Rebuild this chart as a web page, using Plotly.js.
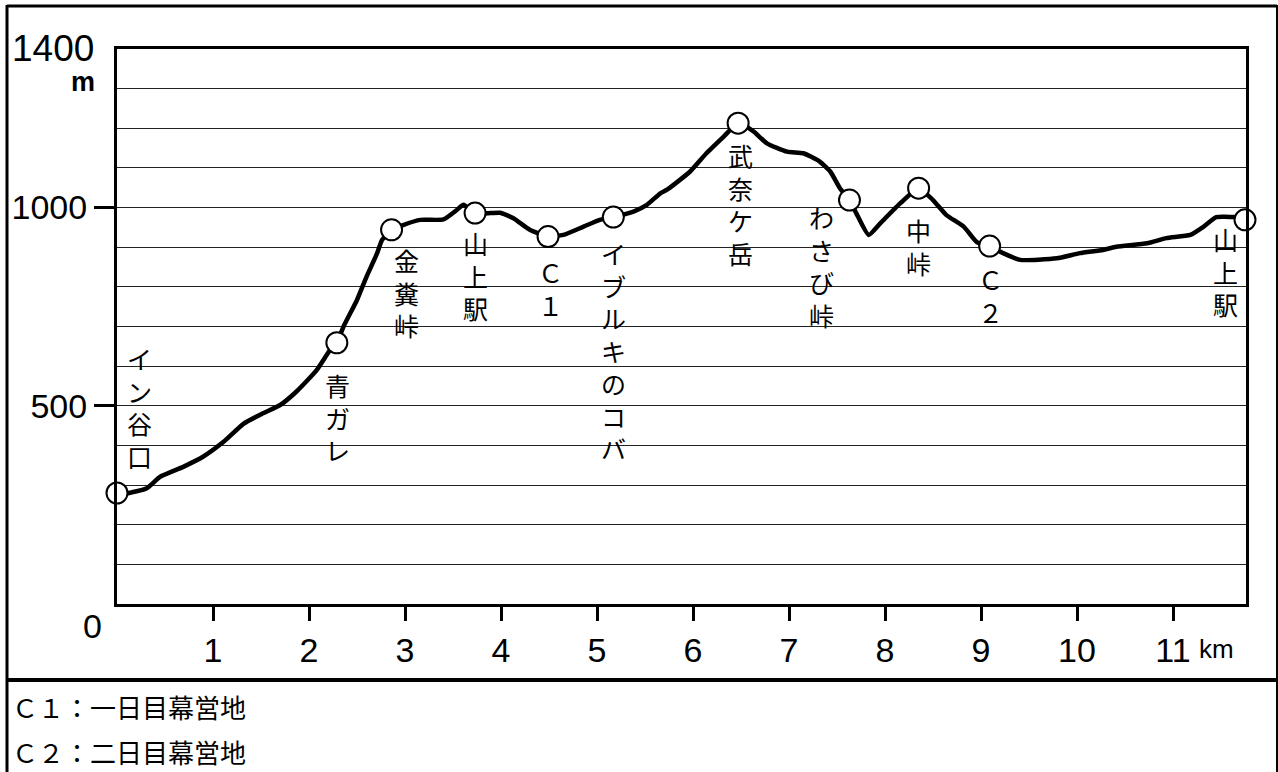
<!DOCTYPE html>
<html>
<head>
<meta charset="utf-8">
<script src="https://cdn.plot.ly/plotly-3.0.1.min.js"></script>
<style>html,body{margin:0;padding:0;background:#fff;}#chart{width:1278px;height:772px;}</style>
</head>
<body>
<div id="chart"></div>
<script>
// ---- data ----
const distKm = [0,0.10,0.31,0.45,0.69,0.90,1.11,1.32,1.52,1.70,1.87,2.08,2.22,2.29,2.36,2.50,2.60,2.71,2.76,2.86,2.98,3.16,3.40,3.54,3.61,3.73,3.89,3.99,4.13,4.30,4.49,4.65,4.86,5.03,5.17,5.38,5.52,5.66,5.73,5.97,6.14,6.32,6.47,6.63,6.77,6.98,7.15,7.32,7.43,7.53,7.63,7.70,7.83,7.95,8.16,8.35,8.50,8.64,8.82,8.96,9.09,9.23,9.41,9.79,10.03,10.27,10.41,10.73,10.93,11.18,11.32,11.45,11.63,11.75];
const elevM  = [280,279,292,321,346,372,409,455,481,502,536,590,641,659,700,767,826,885,918,944,956,969,970,994,1007,986,986,987,973,944,927,931,952,969,976,990,1007,1036,1045,1091,1137,1179,1213,1192,1162,1141,1137,1116,1091,1049,1019,986,931,960,1011,1049,1019,981,952,912,903,885,868,872,885,893,901,910,923,931,952,976,976,969];

const placeNames = [["イ","ン","谷","口"],["青","ガ","レ"],["金","糞","峠"],["山","上","駅"],["Ｃ","１"],["イ","ブ","ル","キ","の","コ","バ"],["武","奈","ケ","岳"],["わ","さ","び","峠"],["中","峠"],["Ｃ","２"],["山","上","駅"]];
const placeKm = [0,2.29,2.86,3.73,4.49,5.17,6.47,7.63,8.35,9.09,11.75];
const placeM  = [280,659,944,986,927,976,1213,1019,1049,903,969];

const xTickVals = [1,2,3,4,5,6,7,8,9,10,11];
const xTickText = ["1","2","3","4","5","6","7","8","9","10","11"];
const yTickVals = [500,1000];
const yTickText = ["500","1000"];
const notes = ["Ｃ１：一日目幕営地","Ｃ２：二日目幕営地"];

// ---- layout helpers (pixel -> paper) ----
const L=117, R=1246, T=49, B=604;
const px = v => (v-L)/(R-L);
const py = v => (B-v)/(B-T);
const numFont = "Liberation Sans, Arial, sans-serif";
const jpFont = "Noto Sans CJK JP, sans-serif";

// label offsets in pixels relative to each place marker [dx, dy(down)]
const labelOffsets = [[22,-86],[1,75],[15,63],[0,62],[2,52],[0,133],[2,81],[-28,66],[0,58],[1,49],[-20,52]];

const annotations = placeNames.map((chars,i)=>({
  x: placeKm[i], y: placeM[i], xref:'x', yref:'y',
  text: chars.join('<br>'), showarrow:false,
  xanchor:'center', yanchor:'middle',
  xshift: labelOffsets[i][0], yshift: -labelOffsets[i][1],
  font:{family:jpFont, size:25, color:'#000'}
}));

annotations.push(
  {x:px(96), y:py(48), xref:'paper', yref:'paper', text:'1400', showarrow:false, xanchor:'right', yanchor:'middle', font:{family:numFont,size:37,color:'#000'}},
  {x:px(97), y:py(82), xref:'paper', yref:'paper', text:'<b>m</b>', showarrow:false, xanchor:'right', yanchor:'middle', font:{family:numFont,size:27,color:'#000'}},
  {x:px(92), y:py(626), xref:'paper', yref:'paper', text:'0', showarrow:false, xanchor:'center', yanchor:'middle', font:{family:numFont,size:34,color:'#000'}},
  {x:px(1197), y:py(649), xref:'paper', yref:'paper', text:'km', showarrow:false, xanchor:'left', yanchor:'middle', font:{family:numFont,size:26,color:'#000'}},
  {x:px(10), y:py(706), xref:'paper', yref:'paper', text:notes[0], showarrow:false, xanchor:'left', yanchor:'middle', font:{family:jpFont,size:26,color:'#000'}},
  {x:px(10), y:py(751), xref:'paper', yref:'paper', text:notes[1], showarrow:false, xanchor:'left', yanchor:'middle', font:{family:jpFont,size:26,color:'#000'}}
);

const ln = (x0,y0,x1,y1,w)=>({type:'line', xref:'paper', yref:'paper', x0:px(x0), y0:py(y0), x1:px(x1), y1:py(y1), line:{color:'#000', width:w}});
const shapes = [
  ln(7,6,1277,6,3),
  ln(7,5,7,772,3),
  ln(1277,5,1277,772,2),
  ln(7,680,1277,680,4)
];

const traces = [
  {x:distKm, y:elevM, type:'scatter', mode:'lines', line:{color:'#000', width:4.5, shape:'spline', smoothing:0.5}, hoverinfo:'skip', cliponaxis:false},
  {x:placeKm, y:placeM, type:'scatter', mode:'markers', marker:{size:21, color:'#fff', line:{color:'#000', width:2}}, cliponaxis:false}
];

const layout = {
  width:1278, height:772,
  margin:{l:L, r:1278-R, t:T, b:772-B, pad:0},
  paper_bgcolor:'#fff', plot_bgcolor:'#fff',
  showlegend:false,
  xaxis:{range:[0,(R-L)/96], showline:true, linewidth:3, linecolor:'#000', mirror:true,
    tickmode:'array', tickvals:xTickVals, ticktext:xTickText, ticks:'outside', ticklen:14, tickwidth:3, tickcolor:'#000',
    tickfont:{family:numFont, size:34, color:'#000'}, showgrid:false, zeroline:false, fixedrange:true},
  yaxis:{range:[0,1400], showline:true, linewidth:3, linecolor:'#000', mirror:true,
    tickmode:'array', tickvals:yTickVals, ticktext:yTickText, ticks:'outside', ticklen:20, tickwidth:3, tickcolor:'#000',
    tickfont:{family:numFont, size:34, color:'#000'}, showgrid:true, gridcolor:'#222', gridwidth:1,
    minor:{tickmode:'linear', tick0:0, dtick:100, showgrid:true, gridcolor:'#222', gridwidth:1, ticks:''},
    zeroline:false, fixedrange:true},
  annotations, shapes
};

Plotly.newPlot('chart', traces, layout, {staticPlot:true, displayModeBar:false});
</script>
</body>
</html>
